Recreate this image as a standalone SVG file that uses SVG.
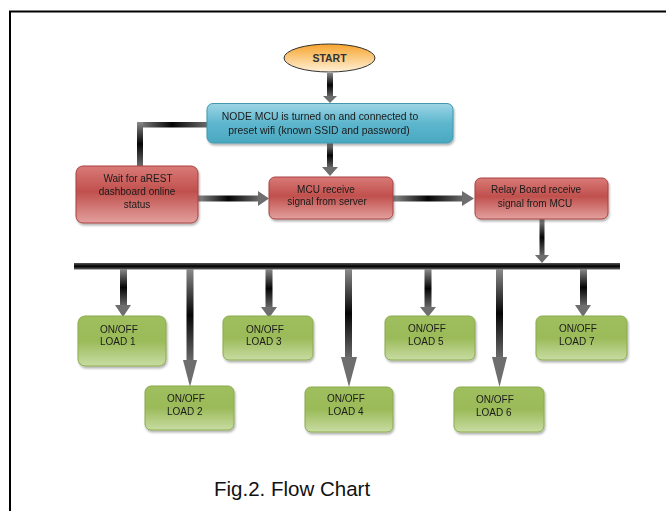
<svg xmlns="http://www.w3.org/2000/svg" width="666" height="511" viewBox="0 0 666 511">
<defs>
<style>
text{font-family:"Liberation Sans",Arial,sans-serif;font-size:10px;fill:#1a1a1a}
.c{text-anchor:middle}
.red{fill:url(#gRed);stroke:#a84340;stroke-width:1}
.grn{fill:url(#gGrn);stroke:#8aab4c;stroke-width:1}
.blu{fill:url(#gBlu);stroke:#3f97ae;stroke-width:1}
.vs{fill:url(#gV)}
.hs{fill:url(#gH)}
.hd{fill:#6e6e6e}
</style>
<linearGradient id="gRed" x1="0" y1="0" x2="0" y2="1">
<stop offset="0" stop-color="#d97a77"/><stop offset="0.45" stop-color="#c0504d"/><stop offset="1" stop-color="#e3a09e"/>
</linearGradient>
<linearGradient id="gGrn" x1="0" y1="0" x2="0" y2="1">
<stop offset="0" stop-color="#9fbe5e"/><stop offset="0.5" stop-color="#9bbb59"/><stop offset="1" stop-color="#c8dca3"/>
</linearGradient>
<linearGradient id="gBlu" x1="0" y1="0" x2="0" y2="1">
<stop offset="0" stop-color="#9dd5e5"/><stop offset="0.5" stop-color="#5db6ce"/><stop offset="1" stop-color="#4aa8c1"/>
</linearGradient>
<linearGradient id="gOr" x1="0" y1="0" x2="0" y2="1">
<stop offset="0" stop-color="#f7a42c"/><stop offset="1" stop-color="#fff1d8"/>
</linearGradient>
<linearGradient id="gV" x1="0" y1="0" x2="0" y2="1">
<stop offset="0" stop-color="#8a8a8a"/><stop offset="0.5" stop-color="#050505"/><stop offset="1" stop-color="#6a6a6a"/>
</linearGradient>
<linearGradient id="gH" x1="0" y1="0" x2="1" y2="0">
<stop offset="0" stop-color="#8a8a8a"/><stop offset="0.5" stop-color="#050505"/><stop offset="1" stop-color="#6a6a6a"/>
</linearGradient>
<linearGradient id="gBus" x1="0" y1="0" x2="0" y2="1">
<stop offset="0" stop-color="#555"/><stop offset="0.5" stop-color="#000"/><stop offset="1" stop-color="#666"/>
</linearGradient>
<filter id="sh" x="-10%" y="-10%" width="130%" height="140%">
<feDropShadow dx="1" dy="2" stdDeviation="1.2" flood-color="#000" flood-opacity="0.3"/>
</filter>
</defs>
<rect width="666" height="511" fill="#fff"/>
<!-- frame -->
<path d="M10 511 V11.5 H666" fill="none" stroke="#000" stroke-width="2"/>

<g id="connectors">
<!-- start to node -->
<rect class="vs" x="327" y="73" width="6" height="24"/>
<polygon class="hd" points="323,96 337,96 330,103"/>
<!-- node to wait (elbow) -->
<rect class="hs" x="137" y="122" width="70" height="5.5"/>
<rect class="vs" x="137" y="122" width="6" height="44"/>
<!-- node to mcu -->
<rect class="vs" x="327" y="143" width="6" height="25"/>
<polygon class="hd" points="322,167 338,167 330,176"/>
<!-- wait to mcu -->
<rect class="hs" x="198" y="195.5" width="61" height="6"/>
<polygon class="hd" points="258,191 258,206 269,198.5"/>
<!-- mcu to relay -->
<rect class="hs" x="393" y="195.5" width="70" height="6"/>
<polygon class="hd" points="462,191 462,206 474,198.5"/>
<!-- relay to bus -->
<rect class="vs" x="539.5" y="219" width="5" height="37"/>
<polygon class="hd" points="535,255 549,255 542,263"/>
<!-- bus -->
<rect x="74" y="263" width="546" height="6.5" fill="url(#gBus)"/>
<!-- load arrows -->
<rect class="vs" x="120" y="269" width="7" height="37"/>
<polygon class="hd" points="115,305 131,305 123,317"/>
<rect class="vs" x="186.5" y="269" width="7" height="92"/>
<polygon class="hd" points="183,360 197,360 190,387"/>
<rect class="vs" x="265.5" y="269" width="7" height="39"/>
<polygon class="hd" points="261,307 277,307 269,318"/>
<rect class="vs" x="345" y="269" width="7" height="89"/>
<polygon class="hd" points="341,357 357,357 349,387"/>
<rect class="vs" x="424.5" y="269" width="7" height="39"/>
<polygon class="hd" points="420,307 436,307 428,317"/>
<rect class="vs" x="496" y="269" width="7" height="89"/>
<polygon class="hd" points="492,357 507,357 499.5,387"/>
<rect class="vs" x="580" y="269" width="7" height="37"/>
<polygon class="hd" points="575,305 591,305 583,317"/>
</g>

<g id="start">
<ellipse cx="329.5" cy="58" rx="45.5" ry="14" fill="url(#gOr)" stroke="#333" stroke-width="1"/>
<text class="c" x="329.5" y="61.5" style="font-size:10.5px;font-weight:bold;fill:#333">START</text>
</g>
<g id="node-mcu" filter="url(#sh)">
<rect class="blu" x="207" y="103.5" width="246" height="39.5" rx="6"/>
<text class="c" x="320" y="120" style="font-size:10.4px">NODE MCU is turned on and connected to</text>
<text class="c" x="319" y="134" style="font-size:10.4px">preset wifi (known SSID and password)</text>
</g>
<g id="wait" filter="url(#sh)">
<rect class="red" x="76" y="166" width="122" height="57" rx="7"/>
<text class="c" x="138" y="182">Wait for aREST</text>
<text class="c" x="137" y="195">dashboard online</text>
<text class="c" x="137" y="208">status</text>
</g>
<g id="mcu-receive" filter="url(#sh)">
<rect class="red" x="269" y="177" width="124" height="42" rx="6"/>
<text class="c" x="326" y="193">MCU receive</text>
<text class="c" x="327" y="205">signal from server</text>
</g>
<g id="relay" filter="url(#sh)">
<rect class="red" x="475" y="178" width="133" height="41" rx="6"/>
<text class="c" x="536" y="193">Relay Board receive</text>
<text class="c" x="535" y="207">signal from MCU</text>
</g>
<g id="load1" filter="url(#sh)">
<rect class="grn" x="78" y="316" width="88" height="50" rx="7"/>
<text x="100" y="333">ON/OFF</text><text x="100" y="345">LOAD 1</text>
</g>
<g id="load2" filter="url(#sh)">
<rect class="grn" x="145" y="386" width="89" height="44" rx="6"/>
<text x="167" y="402">ON/OFF</text><text x="167" y="415">LOAD 2</text>
</g>
<g id="load3" filter="url(#sh)">
<rect class="grn" x="223" y="316" width="90" height="44" rx="6"/>
<text x="246" y="333">ON/OFF</text><text x="246" y="345">LOAD 3</text>
</g>
<g id="load4" filter="url(#sh)">
<rect class="grn" x="305" y="387" width="88" height="45" rx="6"/>
<text x="327" y="402">ON/OFF</text><text x="328" y="415">LOAD 4</text>
</g>
<g id="load5" filter="url(#sh)">
<rect class="grn" x="385" y="316" width="90" height="44" rx="6"/>
<text x="408" y="332">ON/OFF</text><text x="408" y="345">LOAD 5</text>
</g>
<g id="load6" filter="url(#sh)">
<rect class="grn" x="454" y="387" width="90" height="45" rx="6"/>
<text x="476" y="403">ON/OFF</text><text x="476" y="416">LOAD 6</text>
</g>
<g id="load7" filter="url(#sh)">
<rect class="grn" x="536" y="316" width="91" height="44" rx="6"/>
<text x="559" y="332">ON/OFF</text><text x="559" y="345">LOAD 7</text>
</g>
<text x="214" y="496" style="font-size:20.5px;fill:#111">Fig.2. Flow Chart</text>
</svg>
